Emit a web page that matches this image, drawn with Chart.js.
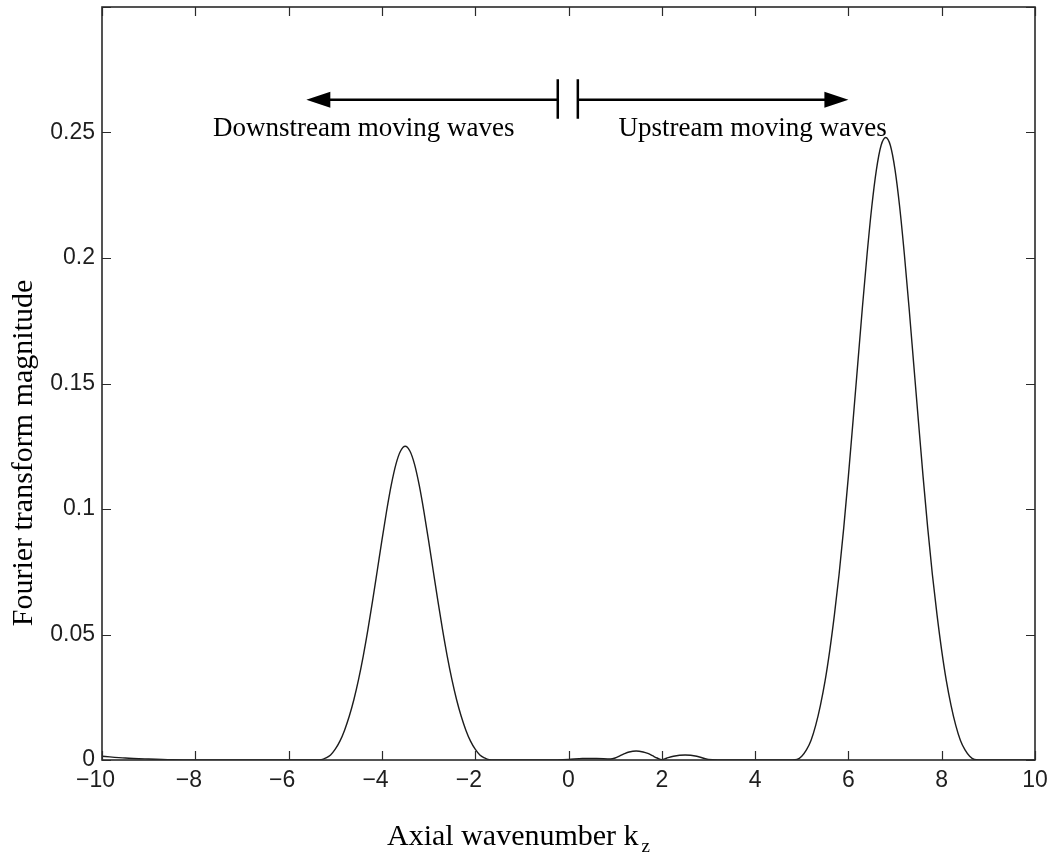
<!DOCTYPE html>
<html>
<head>
<meta charset="utf-8">
<script src="https://cdn.jsdelivr.net/npm/chart.js@4/dist/chart.umd.min.js"></script>
<style>
html,body{margin:0;padding:0;background:#fff;}
#wrap{width:1052px;height:855px;position:relative;}
</style>
</head>
<body>
<div id="wrap"><canvas id="c" width="1052" height="855"></canvas></div>
<script>
// ---- data ----
const kz = [
  -10, -9.5, -9, -8.5, -8, -7, -6, -5.5, -5.4, -5.3, -5.2, -5.1,
  -5.0, -4.9, -4.8, -4.7, -4.6, -4.5, -4.4, -4.3, -4.2, -4.1,
  -4.0, -3.9, -3.8, -3.7, -3.6, -3.5, -3.4, -3.3, -3.2, -3.1,
  -3.0, -2.9, -2.8, -2.7, -2.6, -2.5, -2.4, -2.3, -2.2, -2.1,
  -2.0, -1.9, -1.8, -1.7, -1.6, -1.0, -0.5,
  0, 0.3, 0.6, 0.9, 1.0, 1.1, 1.2, 1.3, 1.45, 1.6, 1.7, 1.8, 1.9,
  2.0, 2.1, 2.25, 2.5, 2.75, 2.9, 3.0, 3.2, 4.0, 4.8,
  4.9, 5.0, 5.1, 5.2, 5.3, 5.4, 5.5, 5.6, 5.7, 5.8, 5.9,
  6.0, 6.1, 6.2, 6.3, 6.4, 6.5, 6.6, 6.7, 6.8, 6.9,
  7.0, 7.1, 7.2, 7.3, 7.4, 7.5, 7.6, 7.7, 7.8, 7.9,
  8.0, 8.1, 8.2, 8.3, 8.4, 8.5, 8.6, 8.7, 8.8, 9.5, 10
];
const magnitude = [
  0.0015, 0.0008, 0.0004, 0.0001, 0, 0, 0, 0, 0, 0.0001, 0.0008, 0.0020,
  0.0043, 0.0075, 0.0119, 0.0174, 0.0241, 0.0321, 0.0414, 0.0519, 0.0634, 0.0754,
  0.0875, 0.0991, 0.1095, 0.1178, 0.1231, 0.1250, 0.1231, 0.1178, 0.1095, 0.0991,
  0.0875, 0.0754, 0.0634, 0.0519, 0.0414, 0.0321, 0.0241, 0.0174, 0.0119, 0.0075,
  0.0043, 0.0020, 0.0008, 0.0001, 0, 0, 0,
  0.0002, 0.0006, 0.0006, 0.0004, 0.0008, 0.0016, 0.0025, 0.0032, 0.0036, 0.0032, 0.0026, 0.0017, 0.0008,
  0.0001, 0.0007, 0.0015, 0.0020, 0.0015, 0.0007, 0.0002, 0, 0, 0,
  0.0002, 0.0015, 0.0040, 0.0079, 0.0139, 0.0218, 0.0315, 0.0436, 0.0578, 0.0739, 0.0925,
  0.1131, 0.1352, 0.1577, 0.1803, 0.2014, 0.2202, 0.2351, 0.2448, 0.2480, 0.2448,
  0.2351, 0.2202, 0.2014, 0.1803, 0.1577, 0.1352, 0.1131, 0.0925, 0.0739, 0.0578,
  0.0436, 0.0315, 0.0218, 0.0139, 0.0079, 0.0040, 0.0015, 0.0002, 0, 0, 0
];
const xTickValues = [-10, -8, -6, -4, -2, 0, 2, 4, 6, 8, 10];
const yTickValues = [0, 0.05, 0.1, 0.15, 0.2, 0.25, 0.3];
const xTitle = 'Axial wavenumber k';
const xTitleSub = 'z';
const yTitle = 'Fourier transform magnitude';
const leftLabel = 'Downstream moving waves';
const rightLabel = 'Upstream moving waves';

// ---- annotation placement (in axis units) ----
const notes = {
  arrowY: 0.263,
  leftFrom: -0.23, leftTo: -5.62,
  rightFrom: 0.2, rightTo: 6.0,
  barTop: 0.2712, barBottom: 0.2555,
  textY: 0.2485,
  leftTextX: -7.62, rightTextX: 1.07
};

const SERIF = '"Liberation Serif", "Times New Roman", Times, serif';
const SANS = '"Liberation Sans", Arial, Helvetica, sans-serif';

function fmtX(v) {
  return v < 0 ? '\u2212' + Math.abs(v) + '  ' : String(v);
}
function fmtY(v) {
  if (Math.abs(v - 0.3) < 1e-9) return '';
  if (Math.abs(v) < 1e-12) return '0';
  return String(+v.toFixed(2));
}

const framePlugin = {
  id: 'frame',
  afterDraw(chart) {
    const ctx = chart.ctx;
    const {left, right, top, bottom} = chart.chartArea;
    const xs = chart.scales.x, ys = chart.scales.y;
    ctx.save();
    // frame
    ctx.strokeStyle = '#2a2a2a';
    ctx.lineWidth = 1.6;
    ctx.strokeRect(left, top, right - left, bottom - top);
    // inward ticks
    ctx.lineWidth = 1.2;
    ctx.beginPath();
    xTickValues.forEach(v => {
      const px = Math.round(xs.getPixelForValue(v)) + 0.5;
      ctx.moveTo(px, bottom); ctx.lineTo(px, bottom - 9);
      ctx.moveTo(px, top); ctx.lineTo(px, top + 9);
    });
    yTickValues.forEach(v => {
      const py = Math.round(ys.getPixelForValue(v)) + 0.5;
      ctx.moveTo(left, py); ctx.lineTo(left + 9, py);
      ctx.moveTo(right, py); ctx.lineTo(right - 9, py);
    });
    ctx.stroke();

    // arrows
    const ay = ys.getPixelForValue(notes.arrowY);
    const lf = xs.getPixelForValue(notes.leftFrom), lt = xs.getPixelForValue(notes.leftTo);
    const rf = xs.getPixelForValue(notes.rightFrom), rt = xs.getPixelForValue(notes.rightTo);
    const bt = ys.getPixelForValue(notes.barTop), bb = ys.getPixelForValue(notes.barBottom);
    ctx.strokeStyle = '#000';
    ctx.fillStyle = '#000';
    ctx.lineWidth = 2.5;
    ctx.beginPath();
    ctx.moveTo(lf, ay); ctx.lineTo(lt + 20, ay);
    ctx.moveTo(rf, ay); ctx.lineTo(rt - 20, ay);
    ctx.moveTo(lf, bt); ctx.lineTo(lf, bb);
    ctx.moveTo(rf, bt); ctx.lineTo(rf, bb);
    ctx.stroke();
    ctx.beginPath();
    ctx.moveTo(lt, ay); ctx.lineTo(lt + 24, ay - 8); ctx.lineTo(lt + 24, ay + 8); ctx.closePath();
    ctx.moveTo(rt, ay); ctx.lineTo(rt - 24, ay - 8); ctx.lineTo(rt - 24, ay + 8); ctx.closePath();
    ctx.fill();

    // annotation text
    ctx.font = '27px ' + SERIF;
    ctx.textAlign = 'left';
    ctx.textBaseline = 'alphabetic';
    const ty = ys.getPixelForValue(notes.textY);
    ctx.fillText(leftLabel, xs.getPixelForValue(notes.leftTextX), ty);
    ctx.fillText(rightLabel, xs.getPixelForValue(notes.rightTextX), ty);

    // x title with subscript
    ctx.font = '30px ' + SERIF;
    const w = ctx.measureText(xTitle).width;
    const tx = 387;
    ctx.fillText(xTitle, tx, 845);
    ctx.font = '19px ' + SERIF;
    ctx.fillText(xTitleSub, tx + w + 3, 852);

    // y title
    ctx.font = '30px ' + SERIF;
    ctx.translate(32, 453);
    ctx.rotate(-Math.PI / 2);
    ctx.textAlign = 'center';
    ctx.fillText(yTitle, 0, 0);
    ctx.restore();
  }
};

new Chart(document.getElementById('c'), {
  type: 'line',
  data: {
    datasets: [{
      data: kz.map((k, i) => ({x: k, y: magnitude[i]})),
      borderColor: '#1c1c1c',
      borderWidth: 1.4,
      pointRadius: 0,
      fill: false,
      cubicInterpolationMode: 'monotone'
    }]
  },
  options: {
    responsive: false,
    animation: false,
    devicePixelRatio: 1,
    events: [],
    layout: {padding: {left: 0, right: 17, top: 7, bottom: 0}},
    plugins: {legend: {display: false}, tooltip: {enabled: false}, title: {display: false}},
    scales: {
      x: {
        type: 'linear',
        min: -10, max: 10,
        grid: {display: false, drawTicks: false},
        border: {display: false},
        ticks: {
          stepSize: 2,
          padding: 7,
          color: '#1e1e1e',
          font: {family: SANS, size: 23},
          maxRotation: 0,
          autoSkip: false,
          callback: v => fmtX(v)
        },
        afterFit: s => { s.height = 95; s.paddingLeft = 0; s.paddingRight = 0; }
      },
      y: {
        type: 'linear',
        min: 0, max: 0.3,
        grid: {display: false, drawTicks: false},
        border: {display: false},
        ticks: {
          stepSize: 0.05,
          padding: 7,
          color: '#1e1e1e',
          font: {family: SANS, size: 23},
          callback: v => fmtY(v)
        },
        afterFit: s => { s.width = 102; s.paddingTop = 0; s.paddingBottom = 0; }
      }
    }
  },
  plugins: [framePlugin]
});
</script>
</body>
</html>
